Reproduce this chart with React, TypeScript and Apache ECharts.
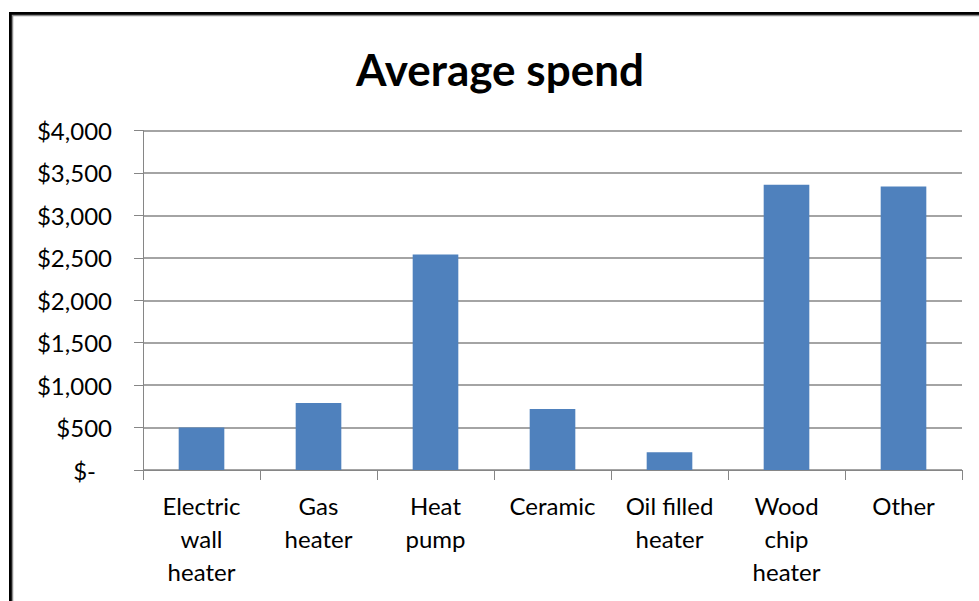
import React, { useEffect, useRef } from "react";
import * as echarts from "echarts";

// Heater types (line breaks mark where the axis labels wrap)
const categories: string[] = [
  "Electric\nwall\nheater",
  "Gas\nheater",
  "Heat\npump",
  "Ceramic",
  "Oil filled\nheater",
  "Wood\nchip\nheater",
  "Other",
];

// Average spend per heater type, in dollars
const averageSpend: number[] = [500, 790, 2540, 720, 210, 3360, 3340];

// Value axis range
const yMin = 0;
const yMax = 4000;
const yStep = 500;

const FONT = "Lato, 'Noto Sans', sans-serif";
const GRID_GRAY = "#868686";

function formatDollars(v: number): string {
  if (v === 0) return "{dash|$-}";
  return "$" + v.toLocaleString("en-US");
}

export default function App() {
  const ref = useRef<HTMLDivElement>(null);

  useEffect(() => {
    if (!ref.current) return;
    const chart = echarts.init(ref.current, undefined, { renderer: "svg" });

    chart.setOption({
      animation: false,
      backgroundColor: "#ffffff",
      title: {
        text: "Average spend",
        left: 495,
        top: 42,
        textAlign: "center",
        textStyle: {
          fontFamily: FONT,
          fontWeight: "bold",
          fontSize: 44,
          color: "#000000",
        },
      },
      grid: {
        left: 143,
        right: 17,
        top: 130.5,
        bottom: 131,
        containLabel: false,
      },
      xAxis: {
        type: "category",
        data: categories,
        boundaryGap: true,
        axisLine: { show: true, lineStyle: { color: GRID_GRAY, width: 1 } },
        axisTick: {
          show: true,
          alignWithLabel: false,
          length: 10,
          lineStyle: { color: GRID_GRAY, width: 1 },
        },
        axisLabel: {
          interval: 0,
          margin: 19,
          fontFamily: FONT,
          fontSize: 24,
          lineHeight: 33,
          color: "#000000",
          align: "center",
        },
      },
      yAxis: {
        type: "value",
        min: yMin,
        max: yMax,
        interval: yStep,
        axisLine: { show: true, lineStyle: { color: GRID_GRAY, width: 1 } },
        axisTick: {
          show: true,
          inside: false,
          length: 9,
          lineStyle: { color: GRID_GRAY, width: 1 },
        },
        splitLine: { show: true, lineStyle: { color: GRID_GRAY, width: 1.5 } },
        axisLabel: {
          margin: 31,
          fontFamily: FONT,
          fontSize: 24,
          color: "#000000",
          formatter: formatDollars,
          rich: {
            dash: {
              fontFamily: FONT,
              fontSize: 24,
              color: "#000000",
              padding: [0, 16, 0, 0],
            },
          },
        },
      },
      series: [
        {
          type: "bar",
          data: averageSpend,
          barWidth: "39%",
          itemStyle: { color: "#4f81bd" },
        },
      ],
      graphic: [
        // outer chart frame with a soft inner edge
        {
          type: "polyline",
          shape: { points: [[10.5, 640], [10.5, 13.5], [1000, 13.5]] },
          style: { stroke: "#000000", lineWidth: 3, fill: "none" },
          silent: true,
        },
        {
          type: "polyline",
          shape: { points: [[12.5, 640], [12.5, 15.5], [1000, 15.5]] },
          style: { stroke: "#8c8c8c", lineWidth: 1.5, fill: "none" },
          silent: true,
        },
      ],
    });

    return () => chart.dispose();
  }, []);

  return (
    <div
      ref={ref}
      style={{ position: "fixed", left: 0, top: 0, width: 979, height: 601 }}
    />
  );
}
